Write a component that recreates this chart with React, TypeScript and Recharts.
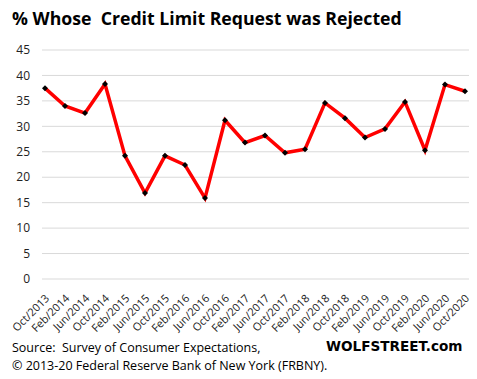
import { LineChart, Line, XAxis, YAxis, CartesianGrid } from "recharts";

const periods = [
  "Oct/2013", "Feb/2014", "Jun/2014", "Oct/2014", "Feb/2015", "Jun/2015",
  "Oct/2015", "Feb/2016", "Jun/2016", "Oct/2016", "Feb/2017", "Jun/2017",
  "Oct/2017", "Feb/2018", "Jun/2018", "Oct/2018", "Feb/2019", "Jun/2019",
  "Oct/2019", "Feb/2020", "Jun/2020", "Oct/2020",
];
const rejectedPct = [
  37.5, 34.0, 32.6, 38.3, 24.2, 16.9, 24.2, 22.4, 15.9, 31.2, 26.8, 28.2,
  24.8, 25.5, 34.6, 31.6, 27.8, 29.5, 34.8, 25.3, 38.2, 36.9,
];
const yTicks = [0, 5, 10, 15, 20, 25, 30, 35, 40, 45];

const data = periods.map((p, i) => ({ period: p, value: rejectedPct[i] }));

const font = "'Open Sans', sans-serif";

function Diamond(props: any) {
  const { cx, cy } = props;
  if (cx == null || cy == null) return null;
  const s = 3;
  return (
    <polygon
      points={`${cx},${cy - s} ${cx + s},${cy} ${cx},${cy + s} ${cx - s},${cy}`}
      fill="#000"
    />
  );
}

function XTick(props: any) {
  const { x, y, payload } = props;
  const ax = x + 3;
  const ay = y + 10;
  return (
    <text
      x={ax}
      y={ay}
      transform={`rotate(-45, ${ax}, ${ay})`}
      textAnchor="end"
      dominantBaseline="middle"
      fontSize={11}
      fontFamily={font}
      fill="#222"
    >
      {payload.value}
    </text>
  );
}

export default function App() {
  return (
    <div style={{ position: "absolute", left: 0, top: 0, width: 477, height: 379, background: "#fff" }}>
      <div
        style={{
          position: "absolute",
          left: 12,
          top: 6,
          fontFamily: font,
          fontWeight: 700,
          fontSize: 17.7,
          color: "#000",
          whiteSpace: "pre",
        }}
      >
        {"% Whose  Credit Limit Request was Rejected"}
      </div>
      <LineChart
        width={477}
        height={379}
        data={data}
        margin={{ top: 50, right: 8, left: 0, bottom: 0 }}
      >
        <CartesianGrid vertical={false} stroke="#d9d9d9" strokeWidth={1} />
        <XAxis
          dataKey="period"
          axisLine={false}
          tickLine={false}
          interval={0}
          tick={<XTick />}
          padding={{ left: 3, right: 4 }}
          height={100}
        />
        <YAxis
          domain={[0, 45]}
          ticks={yTicks}
          interval={0}
          axisLine={false}
          tickLine={false}
          tickSize={0}
          tickMargin={12}
          width={42}
          tick={{ fontSize: 12, fontFamily: font, fill: "#222" }}
        />
        <Line
          type="linear"
          dataKey="value"
          stroke="#ff0000"
          strokeWidth={3.5}
          dot={<Diamond />}
          activeDot={false}
          isAnimationActive={false}
        />
      </LineChart>
      <div
        style={{
          position: "absolute",
          left: 12,
          top: 339,
          fontFamily: font,
          fontSize: 12.5,
          color: "#000",
          lineHeight: "18px",
          whiteSpace: "pre",
        }}
      >
        {"Source:  Survey of Consumer Expectations,\n© 2013-20 Federal Reserve Bank of New York (FRBNY)."}
      </div>
      <div
        style={{
          position: "absolute",
          left: 326,
          top: 338,
          fontFamily: "'DejaVu Sans', sans-serif",
          fontWeight: 700,
          fontSize: 13.6,
          color: "#000",
        }}
      >
        WOLFSTREET.com
      </div>
    </div>
  );
}
